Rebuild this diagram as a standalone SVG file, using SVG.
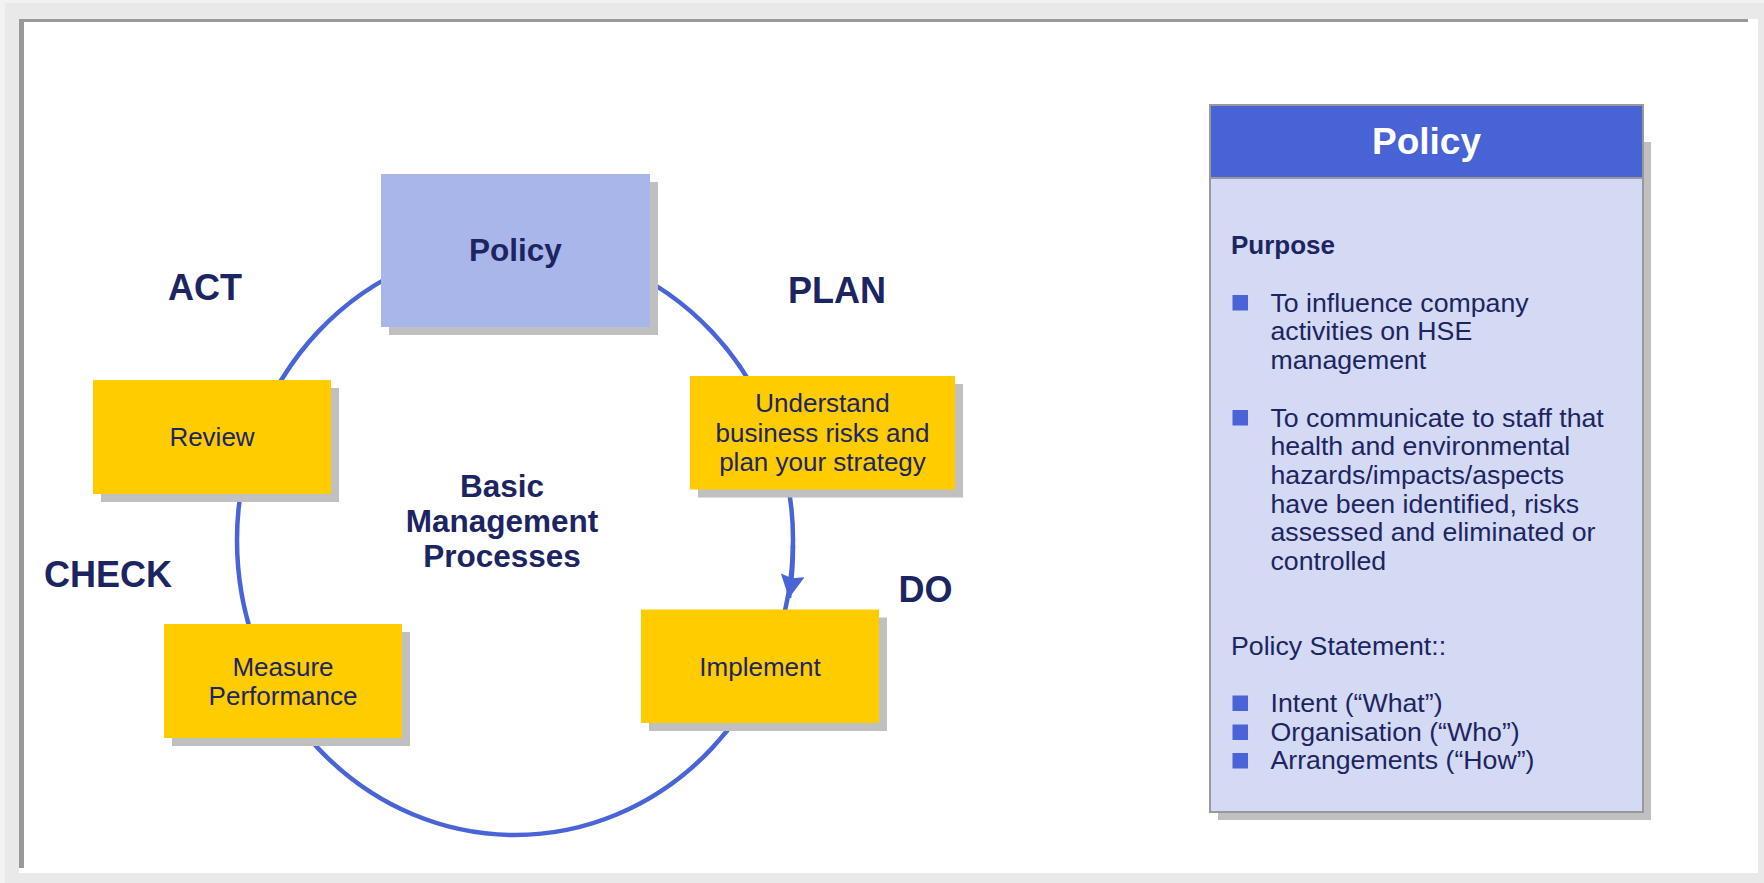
<svg xmlns="http://www.w3.org/2000/svg" width="1764" height="883" viewBox="0 0 1764 883">
<defs>
<style>
.t{font-family:"Liberation Sans",Arial,sans-serif;fill:#1c2561}
.b{font-weight:bold}
.box{fill:#ffcc00}
.sh{fill:#c0c0c0}
.lbl{font-family:"Liberation Sans",Arial,sans-serif;font-weight:bold;font-size:36px;fill:#1c2561}
.bx{font-size:26px;text-anchor:middle}
.pt{font-size:26.7px}
.bul{fill:#4a64d8}
</style>
<marker id="ah" markerUnits="userSpaceOnUse" markerWidth="26" markerHeight="26" refX="23" refY="12" orient="auto">
<path d="M0,0 L23,12 L0,24 L3,12 Z" fill="#4a64d8"/>
</marker>
</defs>
<g id="frame">
<rect x="0" y="0" width="1764" height="883" fill="#e9e9e9"/>
<rect x="0" y="0" width="1764" height="3" fill="#f2f2f2"/>
<rect x="0" y="0" width="5" height="883" fill="#f2f2f2"/>
<rect x="19" y="19" width="1739" height="854" fill="#ffffff"/>
<rect x="19" y="19" width="1729" height="3" fill="#999999"/>
<rect x="19" y="19" width="5" height="849" fill="#999999"/>
</g>
<g id="connectors">
<ellipse cx="515" cy="540" rx="278" ry="295" fill="none" stroke="#4a64d8" stroke-width="4.5"/>
<path d="M793,545 A278,295 0 0 1 789,598" fill="none" stroke="#4a64d8" stroke-width="4.5" marker-end="url(#ah)"/>
</g>
<g id="node-policy">
<rect class="sh" x="389" y="182" width="269" height="153"/>
<rect x="381" y="174" width="269" height="153" fill="#a9b6ea"/>
<text class="t b" x="515.5" y="261" font-size="31.5" text-anchor="middle">Policy</text>
</g>
<g id="node-plan">
<rect class="sh" x="698" y="384" width="265" height="113.5"/>
<rect class="box" x="690" y="376" width="265" height="113.5"/>
<text class="t bx" x="822.5" y="412">Understand</text>
<text class="t bx" x="822.5" y="441.5">business risks and</text>
<text class="t bx" x="822.5" y="471">plan your strategy</text>
</g>
<g id="node-implement">
<rect class="sh" x="649" y="617.5" width="238" height="113.5"/>
<rect class="box" x="641" y="609.5" width="238" height="113.5"/>
<text class="t bx" x="760" y="675.5">Implement</text>
</g>
<g id="node-measure">
<rect class="sh" x="172" y="632" width="238" height="114"/>
<rect class="box" x="164" y="624" width="238" height="114"/>
<text class="t bx" x="283" y="675.5">Measure</text>
<text class="t bx" x="283" y="705">Performance</text>
</g>
<g id="node-review">
<rect class="sh" x="101" y="388" width="238" height="114"/>
<rect class="box" x="93" y="380" width="238" height="114"/>
<text class="t bx" x="212" y="446">Review</text>
</g>
<g id="labels">
<text class="lbl" x="168" y="299.5">ACT</text>
<text class="lbl" x="788" y="302.5">PLAN</text>
<text class="lbl" x="898.5" y="601.5">DO</text>
<text class="lbl" x="44" y="586.5">CHECK</text>
<text class="t b" font-size="31.5" text-anchor="middle"><tspan x="502" y="497">Basic</tspan><tspan x="502" y="532">Management</tspan><tspan x="502" y="566.5">Processes</tspan></text>
</g>
<g id="node-policy-panel">
<rect class="sh" x="1218" y="142" width="433" height="678"/>
<rect x="1210" y="105" width="433" height="707" fill="#d4d9f4" stroke="#999999" stroke-width="2"/>
<rect x="1210" y="105" width="433" height="73" fill="#4863d6" stroke="#999999" stroke-width="2"/>
<text x="1426.5" y="153.5" font-family="Liberation Sans, Arial, sans-serif" font-weight="bold" font-size="37" fill="#ffffff" text-anchor="middle">Policy</text>
<text class="t b" x="1231" y="253.5" font-size="26">Purpose</text>
<rect class="bul" x="1232.5" y="295" width="15.5" height="15.5"/>
<text class="t pt"><tspan x="1270.5" y="311.5">To influence company</tspan><tspan x="1270.5" y="340">activities on HSE</tspan><tspan x="1270.5" y="368.5">management</tspan></text>
<rect class="bul" x="1232.5" y="410" width="15.5" height="15.5"/>
<text class="t pt"><tspan x="1270.5" y="426.5">To communicate to staff that</tspan><tspan x="1270.5" y="455">health and environmental</tspan><tspan x="1270.5" y="483.5">hazards/impacts/aspects</tspan><tspan x="1270.5" y="512.5">have been identified, risks</tspan><tspan x="1270.5" y="541">assessed and eliminated or</tspan><tspan x="1270.5" y="569.5">controlled</tspan></text>
<text class="t pt" x="1231" y="655">Policy Statement::</text>
<rect class="bul" x="1232.5" y="695.5" width="15.5" height="15.5"/>
<rect class="bul" x="1232.5" y="724.5" width="15.5" height="15.5"/>
<rect class="bul" x="1232.5" y="753" width="15.5" height="15.5"/>
<text class="t pt"><tspan x="1270.5" y="711.5">Intent (“What”)</tspan><tspan x="1270.5" y="740.5">Organisation (“Who”)</tspan><tspan x="1270.5" y="769">Arrangements (“How”)</tspan></text>
</g>
</svg>
